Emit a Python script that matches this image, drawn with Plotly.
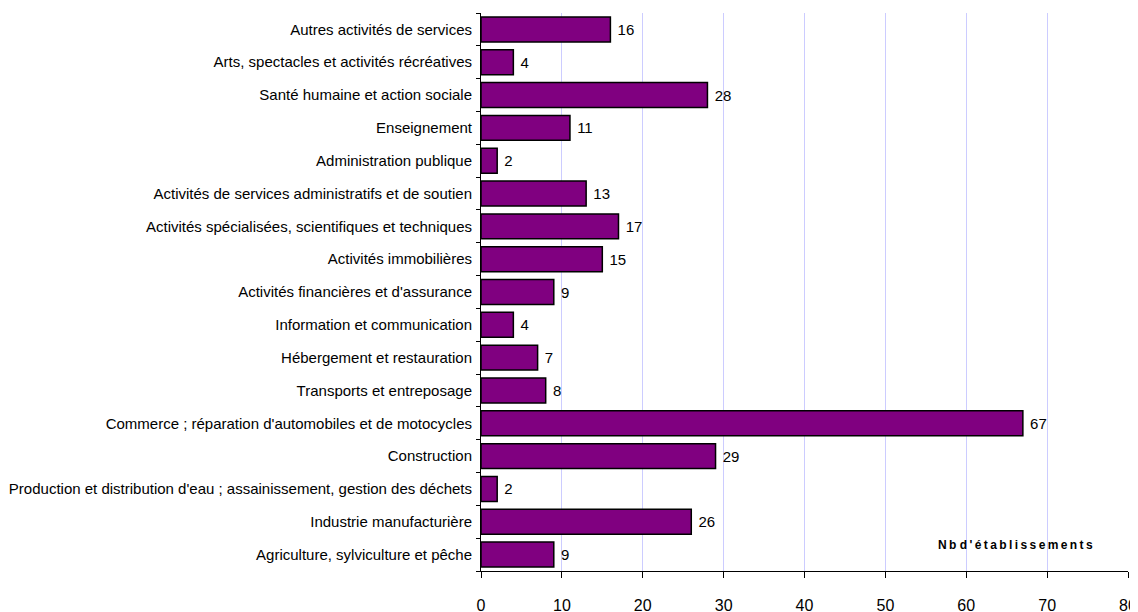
import plotly.graph_objects as go

categories = [
    "Agriculture, sylviculture et pêche",
    "Industrie manufacturière",
    "Production et distribution d'eau ; assainissement, gestion des déchets",
    "Construction",
    "Commerce ; réparation d'automobiles et de motocycles",
    "Transports et entreposage",
    "Hébergement et restauration",
    "Information et communication",
    "Activités financières et d'assurance",
    "Activités immobilières",
    "Activités spécialisées, scientifiques et techniques",
    "Activités de services administratifs et de soutien",
    "Administration publique",
    "Enseignement",
    "Santé humaine et action sociale",
    "Arts, spectacles et activités récréatives",
    "Autres activités de services",
]
values = [9, 26, 2, 29, 67, 8, 7, 4, 9, 15, 17, 13, 2, 11, 28, 4, 16]
x_ticks = [0, 10, 20, 30, 40, 50, 60, 70, 80]
axis_title = "Nb d'établissements"

FONT = "Liberation Sans, Arial, sans-serif"

fig = go.Figure(go.Bar(
    y=categories, x=values, orientation="h",
    marker=dict(color="#800080", line=dict(color="black", width=1.5)),
    text=["\u00a0" + str(v) for v in values], textposition="outside",
    textfont=dict(family=FONT, size=15, color="black"),
    cliponaxis=False,
))

fig.update_layout(
    width=1138, height=612,
    margin=dict(l=473, r=18, t=5, b=49, autoexpand=False),
    paper_bgcolor="white", plot_bgcolor="white",
    bargap=0.24,
    showlegend=False,
    font=dict(family=FONT, color="black"),
)
fig.update_xaxes(
    range=[0, 80], tickvals=x_ticks, ticktext=[str(t) for t in x_ticks],
    showgrid=True, gridcolor="#ccccff", gridwidth=1,
    showline=True, linecolor="black", linewidth=1,
    ticks="outside", ticklen=6, tickcolor="black",
    tickfont=dict(size=16), zeroline=False,
    ticklabelstandoff=14, automargin=False,
)
fig.update_yaxes(
    type="category", categoryorder="array", categoryarray=categories,
    showline=True, linecolor="black", linewidth=1,
    ticks="outside", ticklen=4, tickcolor="black", tickson="boundaries",
    tickfont=dict(size=15), showgrid=False,
    ticklabelstandoff=5, automargin=False,
)
spaced = " ".join("\u2009".join(w) for w in axis_title.split(" "))
fig.add_annotation(
    text="<b>" + spaced + "</b>",
    xref="x", yref="paper", x=66.1, y=0.0466, xanchor="center", yanchor="middle",
    showarrow=False, font=dict(size=12, color="black"),
)
fig.write_html("out.html")
